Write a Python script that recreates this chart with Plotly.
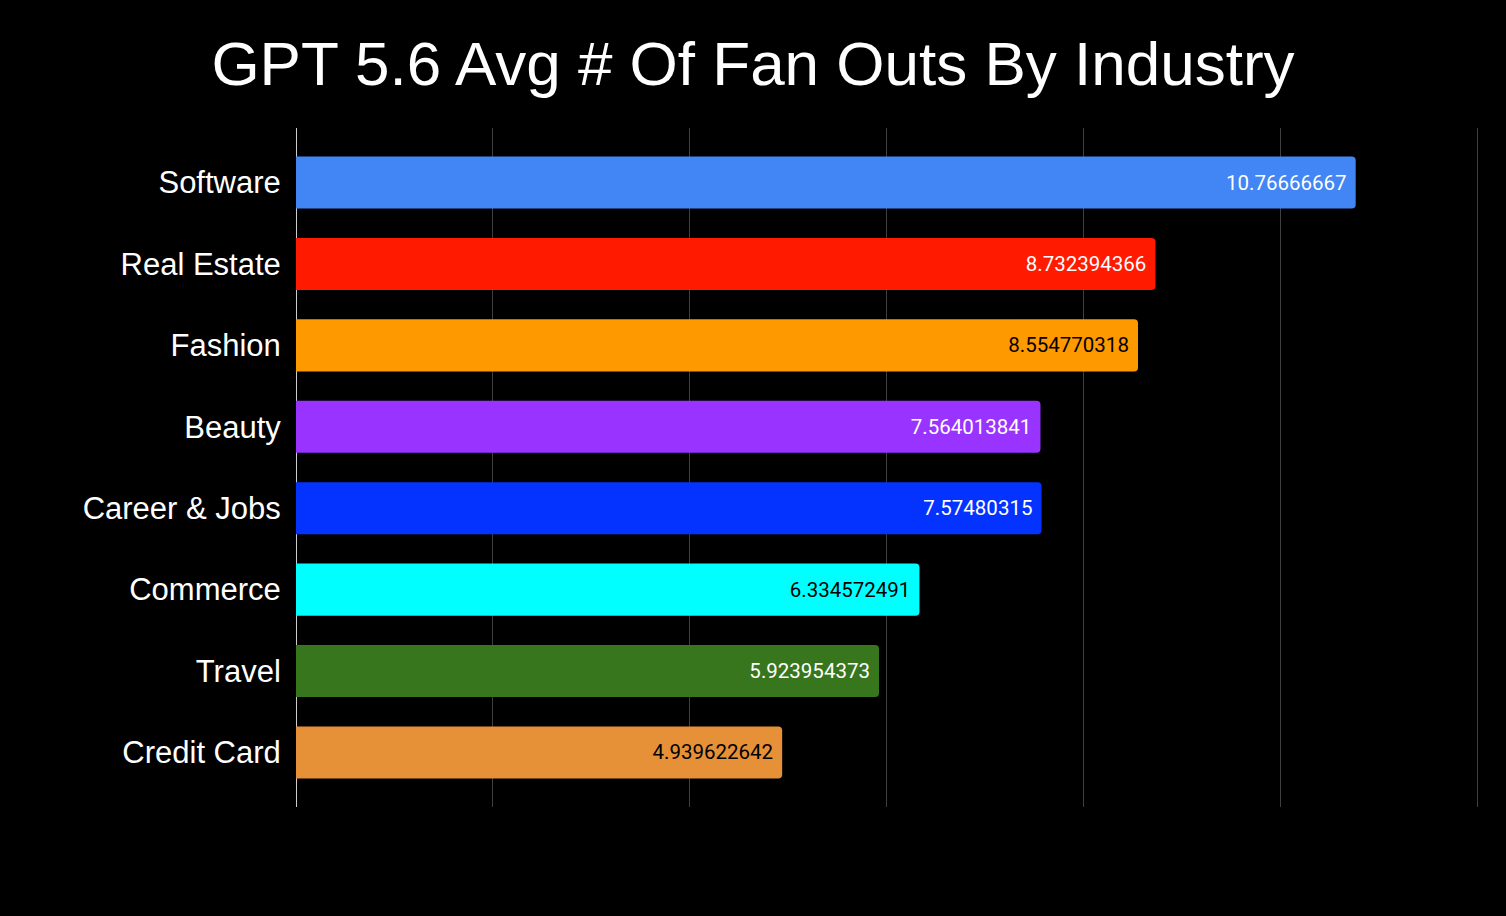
import plotly.graph_objects as go

industries = ['Software', 'Real Estate', 'Fashion', 'Beauty', 'Career & Jobs',
              'Commerce', 'Travel', 'Credit Card']
avg_fan_outs = [10.76666667, 8.732394366, 8.554770318, 7.564013841, 7.57480315,
                6.334572491, 5.923954373, 4.939622642]
value_labels = ['10.76666667', '8.732394366', '8.554770318', '7.564013841', '7.57480315',
                '6.334572491', '5.923954373', '4.939622642']
bar_colors = ['#4285f4', '#ff1a00', '#ff9900', '#9933ff', '#0433ff',
              '#00ffff', '#38761d', '#e69138']
label_colors = ['white', 'white', 'black', 'white', 'white',
                'black', 'white', 'black']

fig = go.Figure()
fig.add_trace(go.Bar(
    x=avg_fan_outs,
    y=industries,
    orientation='h',
    marker=dict(color=bar_colors, line=dict(width=0)),
    # trailing nbsp to push the label a bit off the bar end
    text=[t + '\u00a0' for t in value_labels],
    textposition='inside',
    insidetextanchor='end',
    textangle=0,
    textfont=dict(family='Roboto', size=20.5, color=label_colors),
    hovertemplate='%{y}: %{x}<extra></extra>',
))

fig.update_layout(
    title=dict(text='GPT 5.6 Avg # Of Fan Outs By Industry',
               x=0.5, xanchor='center', y=0.931, yanchor='middle',
               font=dict(family='Liberation Sans, Arial', size=62, color='white')),
    paper_bgcolor='black',
    plot_bgcolor='black',
    width=1506,
    height=916,
    margin=dict(l=296, r=24, t=128, b=109),
    bargap=0.36,
    barcornerradius=4,
    showlegend=False,
    xaxis=dict(
        range=[0, 12.05],  # a little past 12 so the last gridline shows
        dtick=2,
        showticklabels=False,
        showgrid=True,
        gridcolor='#3f3f3f',
        gridwidth=1,
        zeroline=True,
        zerolinecolor='#cccccc',
        zerolinewidth=1,
        fixedrange=True,
    ),
    yaxis=dict(
        categoryorder='array',
        categoryarray=industries,
        range=[7.67, -0.67],
        ticks='outside',
        ticklen=8,
        tickcolor='black',
        tickfont=dict(family='Liberation Sans, Arial', size=31, color='white'),
        showgrid=False,
        zeroline=False,
    ),
)

# page margin off, so the black figure fills the window
fig.write_html('out.html',
               config={'displayModeBar': False},
               post_script="document.body.style.margin='0';"
                           "document.body.style.background='black';")
